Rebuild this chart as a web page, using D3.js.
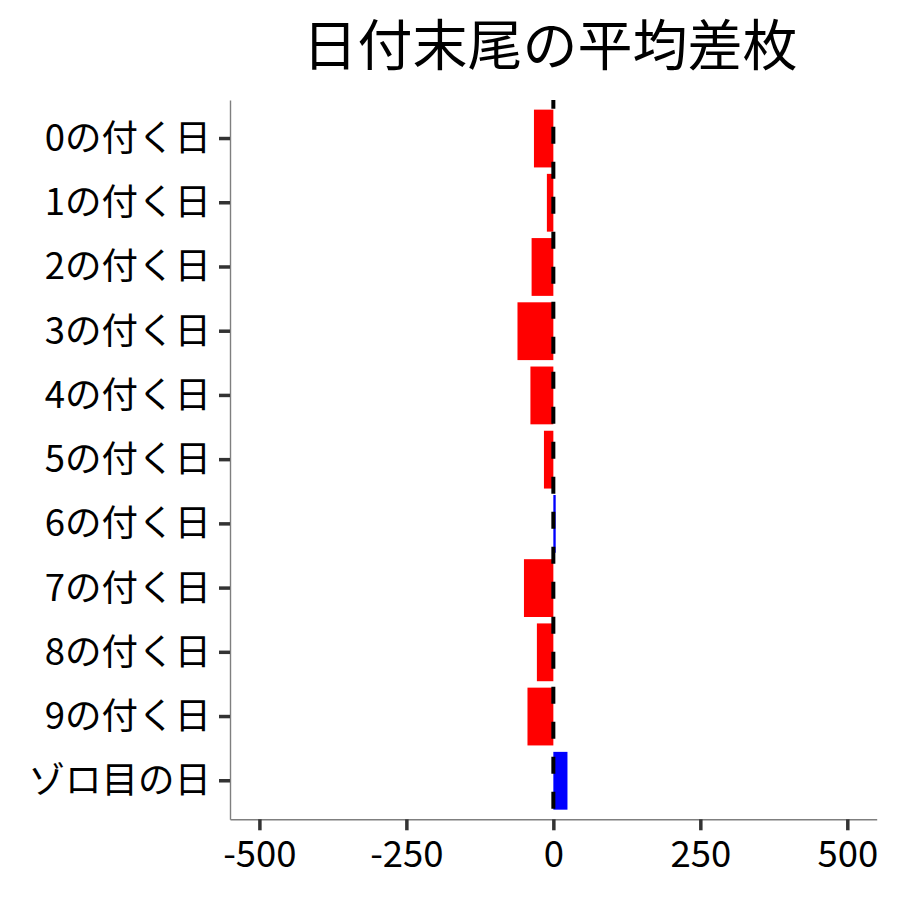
<!DOCTYPE html>
<html>
<head>
<meta charset="utf-8">
<script src="https://cdn.jsdelivr.net/npm/d3@7"></script>
<style>
  body { margin: 0; background: #fff; }
  text { font-family: "Noto Sans CJK JP", "Noto Sans", sans-serif; }
</style>
</head>
<body>
<script>
// data
const categories = ["0の付く日", "1の付く日", "2の付く日", "3の付く日", "4の付く日",
    "5の付く日", "6の付く日", "7の付く日", "8の付く日", "9の付く日", "ゾロ目の日"];
const diffValues = [-33, -11, -37, -61, -39, -16, 4, -50, -28, -44, 24];
const xTicks = [-500, -250, 0, 250, 500];
const titleText = "日付末尾の平均差枚";

const width = 900, height = 900;
const plotLeft = 230, plotRight = 876.7, plotTop = 100, plotBottom = 819.3;

const svg = d3.select("body")
    .append("svg")
    .attr("width", width)
    .attr("height", height);

// scales
const x = d3.scaleLinear()
    .domain([-550, 550])
    .range([plotLeft, plotRight]);

const y = d3.scaleBand()
    .domain(categories)
    .range([plotTop, plotBottom])
    .paddingInner(0.1)
    .paddingOuter(0.15);

// bars
svg.append("g")
    .selectAll("rect")
    .data(categories)
    .join("rect")
    .attr("x", (d, i) => x(Math.min(0, diffValues[i])))
    .attr("width", (d, i) => Math.abs(x(diffValues[i]) - x(0)))
    .attr("y", d => y(d))
    .attr("height", y.bandwidth())
    .attr("fill", (d, i) => diffValues[i] < 0 ? "#ff0000" : "#0000ff");

// dashed zero line
svg.append("line")
    .attr("x1", x(0)).attr("x2", x(0))
    .attr("y1", plotTop).attr("y2", plotBottom)
    .attr("stroke", "#000")
    .attr("stroke-width", 4)
    .attr("stroke-dasharray", "17,18")
    .attr("stroke-dashoffset", 8.3);

// x axis
const xAxis = svg.append("g")
    .attr("transform", `translate(0,${plotBottom})`)
    .call(d3.axisBottom(x).tickValues(xTicks).tickSize(11).tickSizeOuter(0).tickPadding(8));

// y axis
const yAxis = svg.append("g")
    .attr("transform", `translate(${plotLeft},0)`)
    .call(d3.axisLeft(y).tickSize(11).tickSizeOuter(0).tickPadding(8));

[xAxis, yAxis].forEach(ax => {
    ax.select(".domain")
        .attr("stroke", "#7f7f7f")
        .attr("stroke-width", 1.4);
    ax.selectAll(".tick line")
        .attr("stroke", "#333")
        .attr("stroke-width", 3.5);
    ax.selectAll(".tick text")
        .attr("fill", "#000")
        .style("font-size", "36.5px")
        .style("font-family", "'Noto Sans CJK JP', sans-serif");
});

// plain hyphen for negatives, like the picture
xAxis.selectAll(".tick text").text(d => String(d)).attr("dy", "0.78em");
yAxis.selectAll(".tick text").attr("dy", "0.34em");

// title
svg.append("text")
    .attr("x", 550)
    .attr("y", 65)
    .attr("text-anchor", "middle")
    .style("font-size", "55px")
    .attr("fill", "#000")
    .text(titleText);
</script>
</body>
</html>
